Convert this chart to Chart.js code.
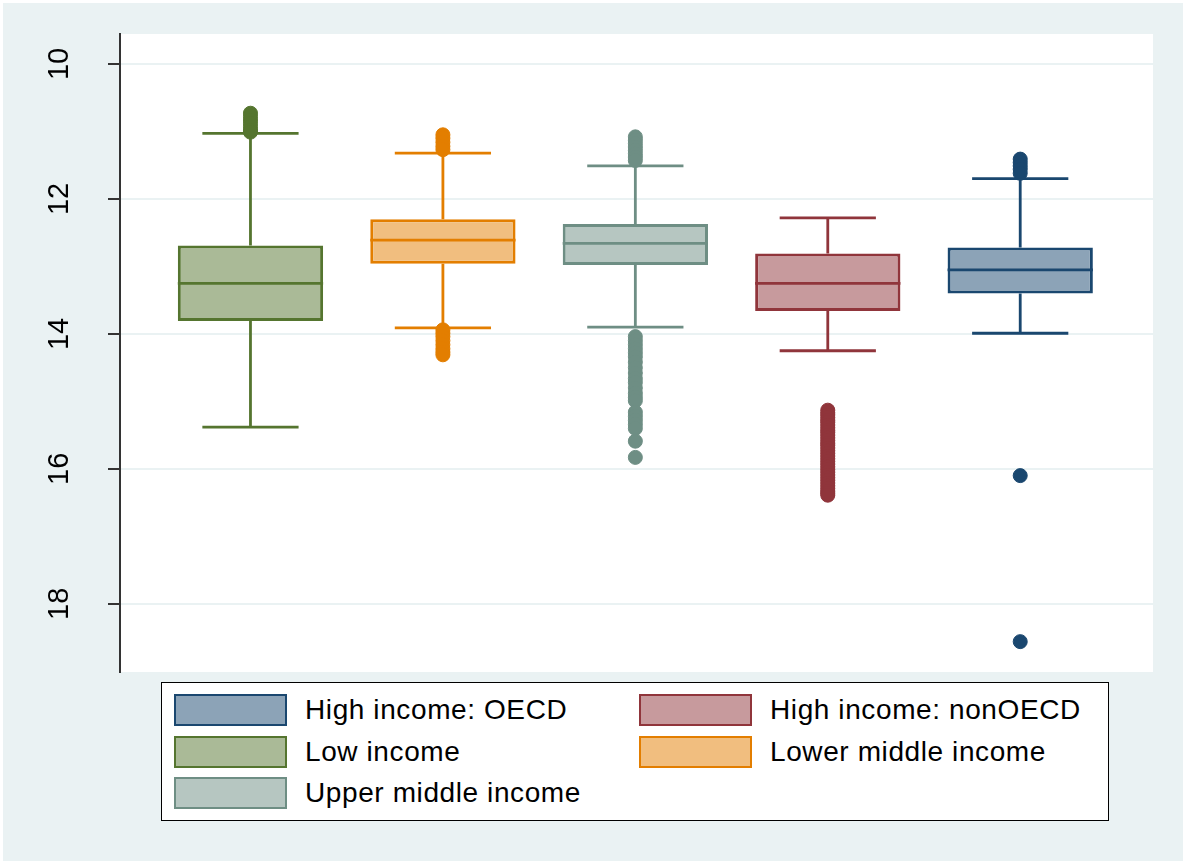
<!DOCTYPE html>
<html>
<head>
<meta charset="utf-8">
<script src="https://cdn.jsdelivr.net/npm/chart.js@4.4.1/dist/chart.umd.min.js"></script>
<style>
  body { margin: 0; background: #fff; }
  #wrap { position: relative; width: 1183px; height: 861px; }
  #legend {
    position: absolute; left: 161px; top: 682px; width: 948px; height: 139px;
    border: 1.5px solid #000; background: #fff;
    display: grid; grid-template-columns: 465px 465px; grid-auto-rows: 41.5px;
    padding: 11px 0 0 12px; box-sizing: border-box;
    font-family: "Liberation Sans", Arial, sans-serif; font-size: 28px; letter-spacing: 0.6px; color: #000;
  }
  .item { display: flex; align-items: center; height: 32px; }
  .swatch { width: 113px; height: 32px; box-sizing: border-box; border: 2.5px solid; margin-right: 18px; }
</style>
</head>
<body>
<div id="wrap">
  <canvas id="myChart" width="1183" height="861"></canvas>
  <div id="legend"></div>
</div>
<script>
// groups in plot order
const groups = ["Low income", "Lower middle income", "Upper middle income", "High income: nonOECD", "High income: OECD"];
const positions = [1, 2, 3, 4, 5];
const lineColors = ["#55752F", "#E37E00", "#6E8E84", "#90353B", "#1A476F"];
const fillColors = ["#AABA97", "#F1BE7F", "#B6C6C1", "#C79A9D", "#8CA3B7"];

// box statistics (y axis is reversed: small values at the top)
const whiskerTop = [11.03, 11.32, 11.51, 12.28, 11.70];
const q1 = [12.69, 12.30, 12.37, 12.81, 12.72];
const median = [13.25, 12.61, 12.66, 13.25, 13.05];
const q3 = [13.81, 12.96, 12.98, 13.66, 13.40];
const whiskerBottom = [15.38, 13.91, 13.90, 14.25, 13.99];

// outside values
const outLow = [10.73, 10.78, 10.83, 10.88, 10.93, 10.98, 11.01];
const outLowerMiddle = [11.05, 11.10, 11.16, 11.22, 11.27, 13.94, 13.99, 14.04, 14.10, 14.16, 14.22, 14.27, 14.31];
const outUpperMiddle = [11.08, 11.13, 11.18, 11.23, 11.28, 11.33, 11.38, 11.43,
  14.04, 14.10, 14.16, 14.22, 14.28, 14.34, 14.42, 14.50, 14.58, 14.66, 14.72, 14.80, 14.88, 14.94, 14.99,
  15.16, 15.22, 15.28, 15.34, 15.40, 15.59, 15.83];
const outNonOECD = [15.13, 15.17, 15.20, 15.24, 15.28, 15.31, 15.35, 15.39, 15.43, 15.46, 15.50, 15.54, 15.58,
  15.62, 15.65, 15.69, 15.73, 15.77, 15.81, 15.85, 15.89, 15.93, 15.97, 16.01, 16.05, 16.09, 16.13, 16.17,
  16.21, 16.25, 16.29, 16.33, 16.36, 16.39];
const outOECD = [11.41, 11.46, 11.51, 11.56, 11.62, 16.10, 18.56];
const outliers = [outLow, outLowerMiddle, outUpperMiddle, outNonOECD, outOECD];

const yTicks = [10, 12, 14, 16, 18];
const legendOrder = ["High income: OECD", "High income: nonOECD", "Low income", "Lower middle income", "Upper middle income"];

const capHalf = 0.25;

// legend (html)
const legendEl = document.getElementById("legend");
legendOrder.forEach((name) => {
  const i = groups.indexOf(name);
  const item = document.createElement("div");
  item.className = "item";
  const sw = document.createElement("div");
  sw.className = "swatch";
  sw.style.background = fillColors[i];
  sw.style.borderColor = lineColors[i];
  const txt = document.createElement("span");
  txt.textContent = name;
  item.appendChild(sw);
  item.appendChild(txt);
  legendEl.appendChild(item);
});

const background = {
  id: "background",
  beforeDraw(chart) {
    const { ctx, chartArea } = chart;
    ctx.save();
    ctx.fillStyle = "#fff";
    ctx.fillRect(0, 0, chart.width, chart.height);
    ctx.fillStyle = "#EAF2F3";
    ctx.fillRect(3, 3, chart.width - 3, chart.height - 3);
    ctx.fillStyle = "#fff";
    ctx.fillRect(chartArea.left, chartArea.top, chartArea.right - chartArea.left, chartArea.bottom - chartArea.top);
    ctx.restore();
  },
};

const whiskers = {
  id: "whiskers",
  afterDatasetDraw(chart, args) {
    if (args.index !== 0) return;
    const { ctx } = chart;
    const xs = chart.scales.x;
    const ys = chart.scales.y;
    const halfBox = chart.getDatasetMeta(0).data[0].width / 2;
    ctx.save();
    ctx.lineWidth = 2.8;
    ctx.lineCap = "butt";
    positions.forEach((p, i) => {
      const cx = xs.getPixelForValue(p);
      const l = xs.getPixelForValue(p - capHalf);
      const r = xs.getPixelForValue(p + capHalf);
      ctx.strokeStyle = lineColors[i];
      ctx.beginPath();
      ctx.moveTo(cx, ys.getPixelForValue(q1[i]));
      ctx.lineTo(cx, ys.getPixelForValue(whiskerTop[i]));
      ctx.moveTo(l, ys.getPixelForValue(whiskerTop[i]));
      ctx.lineTo(r, ys.getPixelForValue(whiskerTop[i]));
      ctx.moveTo(cx, ys.getPixelForValue(q3[i]));
      ctx.lineTo(cx, ys.getPixelForValue(whiskerBottom[i]));
      ctx.moveTo(l, ys.getPixelForValue(whiskerBottom[i]));
      ctx.lineTo(r, ys.getPixelForValue(whiskerBottom[i]));
      ctx.moveTo(cx - halfBox, ys.getPixelForValue(median[i]));
      ctx.lineTo(cx + halfBox, ys.getPixelForValue(median[i]));
      ctx.stroke();
    });
    ctx.restore();
  },
};

const datasets = [
  {
    type: "bar",
    label: "box",
    data: positions.map((p, i) => ({ x: p, y: [q1[i], q3[i]] })),
    backgroundColor: fillColors,
    borderColor: lineColors,
    borderWidth: 3,
    borderSkipped: false,
    grouped: false,
    categoryPercentage: 1,
    barPercentage: 0.755,
    order: 2,
  },
];
outliers.forEach((vals, i) => {
  datasets.push({
    type: "scatter",
    label: groups[i],
    data: vals.map((v) => ({ x: positions[i], y: v })),
    backgroundColor: lineColors[i],
    borderColor: lineColors[i],
    borderWidth: 1,
    pointRadius: 7,
    order: 1,
  });
});

new Chart(document.getElementById("myChart").getContext("2d"), {
  type: "bar",
  data: { datasets },
  plugins: [background, whiskers],
  options: {
    responsive: false,
    animation: false,
    layout: { padding: { top: 34, right: 30, bottom: 189, left: 0 } },
    plugins: { legend: { display: false }, tooltip: { enabled: false } },
    scales: {
      x: {
        type: "linear",
        min: 0.322,
        max: 5.69,
        offset: false,
        display: false,
        afterBuildTicks: (scale) => {
          scale.ticks = positions.map((v) => ({ value: v }));
        },
      },
      y: {
        type: "linear",
        reverse: true,
        min: 9.556,
        max: 19.01,
        afterBuildTicks: (scale) => {
          scale.ticks = yTicks.map((v) => ({ value: v }));
        },
        afterFit: (scale) => {
          scale.width = 120;
          scale.paddingTop = 0;
          scale.paddingBottom = 0;
        },
        grid: { color: "#EAF2F3", lineWidth: 2, tickColor: "#333", tickLength: 12, tickWidth: 2 },
        border: { color: "#333", width: 2 },
        ticks: {
          minRotation: 90,
          maxRotation: 90,
          crossAlign: "center",
          padding: 32,
          color: "#000",
          font: { family: "'Liberation Sans', Arial, sans-serif", size: 29 },
        },
      },
    },
  },
});
</script>
</body>
</html>
